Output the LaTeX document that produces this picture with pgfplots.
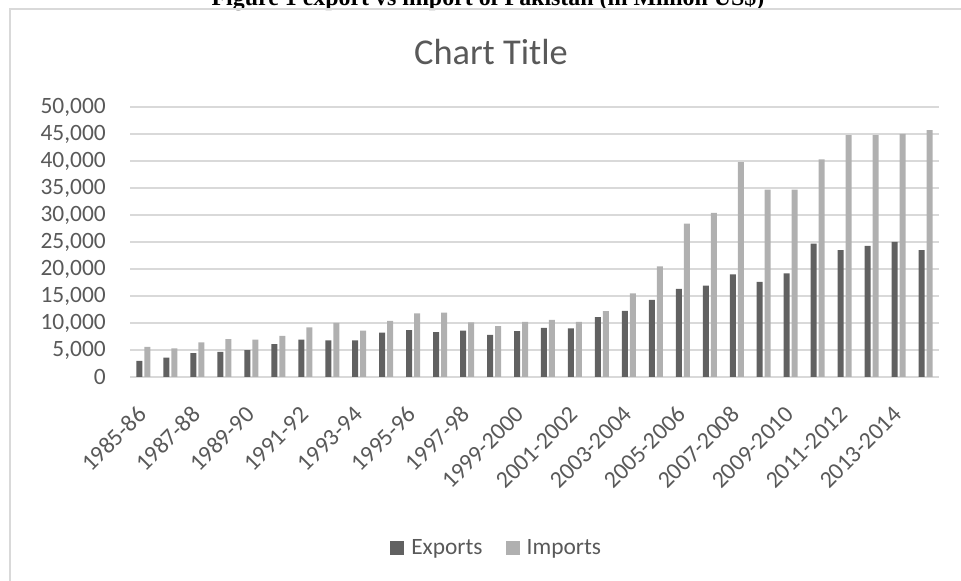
\documentclass[border=0pt]{standalone}
\usepackage{fontspec}
\setmainfont{Carlito}
\newfontfamily\serifb{Liberation Serif}
\usepackage{pgfplots}
\pgfplotsset{compat=1.18}
\definecolor{expc}{HTML}{616161}
\definecolor{impc}{HTML}{B0B0B0}
\definecolor{gridc}{HTML}{D9D9D9}
\definecolor{txtc}{HTML}{595959}
\begin{document}
\begin{tikzpicture}[x=1bp,y=1bp]
\useasboundingbox (0,0) rectangle (961,581);
\clip (0,0) rectangle (961,581);
\node[anchor=base, inner sep=0pt, font=\serifb\bfseries\fontsize{24}{26}\selectfont] at (488,575) {Figure 1 export vs import of Pakistan (in Million US\$)};
\draw[gridc, line width=1.5bp] (10,-20) -- (10,572) -- (990,572);
\node[anchor=base, inner sep=0pt, text=txtc, font=\fontsize{36.5}{40}\selectfont] at (491,516) {Chart Title};
\begin{axis}[
  at={(130bp,204bp)}, anchor=south west,
  scale only axis, width=809bp, height=270bp,
  xmin=-0.5, xmax=29.5, ymin=0, ymax=50000,
  axis line style={draw=none},
  major tick length=0pt,
  ytick={0,5000,...,50000},
  ymajorgrids,
  grid style={gridc, line width=1.3bp},
  /pgf/number format/1000 sep={,},
  /pgf/number format/assume math mode=true,
  y tick label style={font=\fontsize{23.5}{24}\selectfont, text=txtc, anchor=east, inner sep=0pt, xshift=-24bp},
  scaled y ticks=false,
  xtick={0,2,...,28},
  xticklabels={1985-86,1987-88,1989-90,1991-92,1993-94,1995-96,1997-98,1999-2000,2001-2002,2003-2004,2005-2006,2007-2008,2009-2010,2011-2012,2013-2014},
  x tick label style={font=\fontsize{24}{24}\selectfont, text=txtc, inner sep=0pt, xshift=4.5bp, yshift=-39bp, rotate=45, anchor=base east},
  legend style={at={(0.452,-0.633)}, anchor=center, draw=none, fill=none, legend columns=2,
    font=\fontsize{23.5}{24}\selectfont, text=txtc,
    /tikz/every odd column/.append style={column sep=7bp},
    /tikz/every even column/.append style={column sep=23bp},
    nodes={inner sep=0bp}},
  legend image code/.code={\fill[#1] (0bp,-7bp) rectangle (14bp,7bp);},
]
\addplot[ybar, bar width=6bp, bar shift=-4bp, fill=expc, draw=none] coordinates {
(0,3000) (1,3600) (2,4400) (3,4650) (4,4960) (5,6100) (6,6900) (7,6800) (8,6800) (9,8200)
(10,8700) (11,8300) (12,8600) (13,7800) (14,8500) (15,9100) (16,9000) (17,11100) (18,12250) (19,14300)
(20,16300) (21,16900) (22,19000) (23,17600) (24,19200) (25,24700) (26,23500) (27,24300) (28,25000) (29,23500)};
\addlegendentry{Exports}
\addplot[ybar, bar width=6bp, bar shift=4bp, fill=impc, draw=none] coordinates {
(0,5600) (1,5300) (2,6400) (3,7000) (4,6900) (5,7600) (6,9200) (7,10000) (8,8600) (9,10400)
(10,11800) (11,11900) (12,10100) (13,9400) (14,10200) (15,10600) (16,10200) (17,12200) (18,15500) (19,20500)
(20,28400) (21,30400) (22,39800) (23,34700) (24,34700) (25,40300) (26,44800) (27,44800) (28,45000) (29,45700)};
\addlegendentry{Imports}
\end{axis}
\end{tikzpicture}
\end{document}
